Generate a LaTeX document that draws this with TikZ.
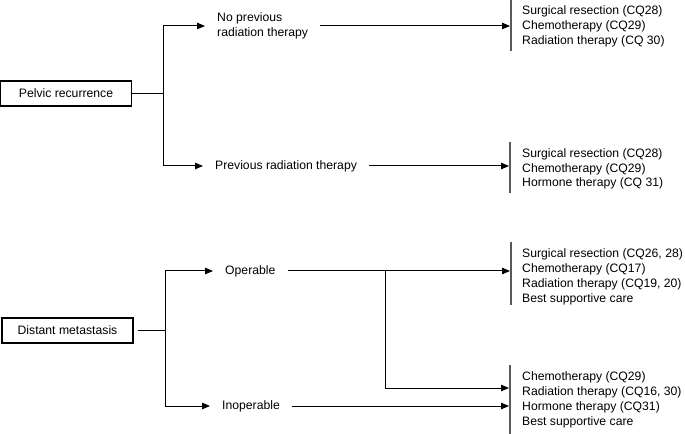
\documentclass[tikz,border=0pt]{standalone}
\usepackage{fontspec}
\setmainfont{Liberation Sans}
\usetikzlibrary{arrows,arrows.meta,calc,shapes}

\tikzset{
  box/.style={draw=black,line width=1.1bp,minimum width=131bp,minimum height=25bp,inner sep=0pt},
  choice/.style={inner xsep=12bp,inner ysep=0pt,align=left,anchor=west},
  result/.style={inner sep=0pt,align=left,anchor=west},
  bar/.style={draw=black!65,line width=1.4bp},
  link/.style={line width=1bp},
  tip/.style={link,-{Triangle[length=8bp,width=6.5bp]}},
}

\begin{document}
\begin{tikzpicture}[x=1bp,y=-1bp,font=\fontsize{12.2bp}{14.7bp}\selectfont]
\useasboundingbox (0,0) rectangle (685,434);

% the start boxes
\node[box] (pelvic) at (66,93.5) {Pelvic recurrence};
\node[box] (distant) at (67.5,330.5) {Distant metastasis};

% the choices
\node[choice] (noprev) at (205,26) {No previous\\radiation therapy};
\node[choice] (prev) at (203,166) {Previous radiation therapy};
\node[choice] (oper) at (213,271) {Operable};
\node[choice] (inoper) at (210,406) {Inoperable};

% the treatments
\node[result] (res1) at (522,26.3) {Surgical resection (CQ28)\\Chemotherapy (CQ29)\\Radiation therapy (CQ 30)};
\node[result] (res2) at (522,168.9) {Surgical resection (CQ28)\\Chemotherapy (CQ29)\\Hormone therapy (CQ 31)};
\node[result] (res3) at (522,276.8) {Surgical resection (CQ26, 28)\\Chemotherapy (CQ17)\\Radiation therapy (CQ19, 20)\\Best supportive care};
\node[result] (res4) at (522,399.8) {Chemotherapy (CQ29)\\Radiation therapy (CQ16, 30)\\Hormone therapy (CQ31)\\Best supportive care};

% the bars
\draw[bar] (511,0) -- (511,51);
\draw[bar] (510,142) -- (510,193);
\draw[bar] (511,242) -- (511,305);
\draw[bar] (510,365) -- (510,434);

% the joints
\coordinate (j1) at (163,93.5);
\coordinate (j2) at (165,330.5);
\coordinate (jv) at (385,271);
\coordinate (b1) at (510,26);
\coordinate (b2) at (509,166);
\coordinate (b3) at (510,271);
\coordinate (b4) at (509,388);
\coordinate (b5) at (509,406);

\draw[link] (pelvic.east) -- (j1);
\draw[tip] (j1) |- (noprev.west);
\draw[tip] (j1) |- (prev.west);
\draw[link] ([xshift=4bp]distant.east) -- (j2);
\draw[tip] (j2) |- (oper.west);
\draw[tip] (j2) |- (inoper.west);

\draw[tip] (noprev.east) -- (b1);
\draw[tip] (prev.east) -- (b2);
\draw[tip] (oper.east) -- (b3);
\draw[tip] (jv) |- (b4);
\draw[tip] (inoper.east) -- (b5);
\end{tikzpicture}
\end{document}
